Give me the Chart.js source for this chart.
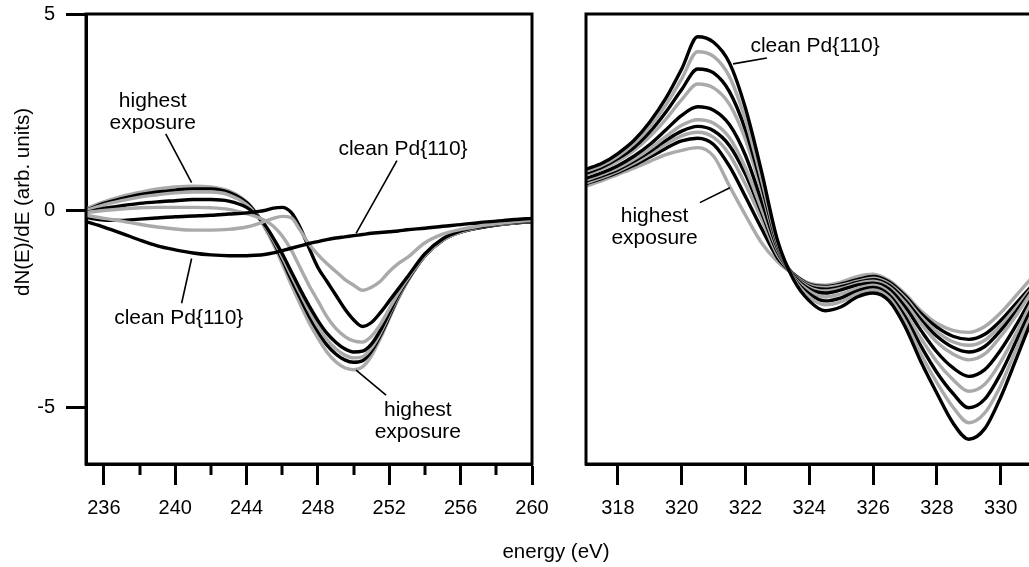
<!DOCTYPE html>
<html>
<head>
<meta charset="utf-8">
<script src="https://cdn.jsdelivr.net/npm/chart.js@4.4.1/dist/chart.umd.min.js"></script>
<style>
  html, body { margin: 0; padding: 0; background: #fff; overflow: hidden; width: 1029px; height: 567px; }
  canvas { position: absolute; top: 0; }
  #leftPanel { left: 0; }
  #rightPanel { left: 560px; }
  .ttl { position: absolute; font-family: "Liberation Sans", Arial, sans-serif; font-size: 20.5px; line-height: 24px; color: #000; white-space: nowrap; }
  #xTitle { left: 556px; top: 539px; transform: translateX(-50%); }
  #yTitle { left: 22px; top: 202px; transform: translate(-50%, -50%) rotate(-90deg); }
</style>
</head>
<body>
<canvas id="leftPanel" width="560" height="567"></canvas>
<canvas id="rightPanel" width="520" height="567"></canvas>
<div class="ttl" id="xTitle">energy (eV)</div>
<div class="ttl" id="yTitle">dN(E)/dE (arb. units)</div>
<script>
// ---- left panel data (energy in eV, dN/dE arb. units) ----
const leftEnergy = [235, 236, 237, 238, 239, 240, 241, 242, 243, 244,
  244.5, 245, 245.5, 246, 246.5, 247, 247.5, 248, 248.5, 249, 249.5, 250, 250.5, 251, 251.5, 252, 252.5, 253,
  254, 255, 256, 257, 258, 259, 260];
const leftClean = [-0.28, -0.42, -0.58, -0.75, -0.9, -1.0, -1.08, -1.13, -1.15, -1.15,
  -1.14, -1.12, -1.08, -1.02, -0.96, -0.9, -0.84, -0.79, -0.74, -0.7, -0.67, -0.64, -0.61, -0.58, -0.56, -0.54, -0.52, -0.49,
  -0.45, -0.4, -0.36, -0.31, -0.27, -0.23, -0.2];
const leftExp1 = [-0.12, -0.2, -0.27, -0.35, -0.42, -0.47, -0.5, -0.5, -0.48, -0.42,
  -0.36, -0.28, -0.2, -0.15, -0.18, -0.5, -0.85, -1.12, -1.35, -1.55, -1.75, -1.9, -2.03, -1.95, -1.8, -1.55, -1.35, -1.2,
  -0.82, -0.6, -0.48, -0.4, -0.34, -0.29, -0.25];
const leftExp2 = [-0.18, -0.24, -0.25, -0.22, -0.19, -0.16, -0.14, -0.12, -0.09, -0.06,
  -0.03, 0.0, 0.06, 0.08, -0.05, -0.43, -0.95, -1.45, -1.8, -2.15, -2.5, -2.78, -2.95, -2.85, -2.6, -2.3, -2.0, -1.7,
  -1.1, -0.72, -0.52, -0.42, -0.35, -0.3, -0.26];
const leftExp3 = [-0.05, 0.0, 0.04, 0.07, 0.08, 0.08, 0.08, 0.07, 0.03, -0.08,
  -0.15, -0.25, -0.4, -0.65, -1.0, -1.45, -1.9, -2.3, -2.7, -3.0, -3.2, -3.32, -3.35, -3.2, -2.9, -2.5, -2.1, -1.75,
  -1.15, -0.75, -0.55, -0.43, -0.36, -0.31, -0.27];
const leftExp4 = [-0.05, 0.05, 0.12, 0.18, 0.22, 0.25, 0.28, 0.28, 0.24, 0.08,
  -0.1, -0.35, -0.7, -1.1, -1.55, -2.0, -2.42, -2.8, -3.12, -3.35, -3.52, -3.6, -3.58, -3.4, -3.05, -2.6, -2.15, -1.78,
  -1.15, -0.75, -0.55, -0.44, -0.37, -0.32, -0.28];
const leftExp5 = [0.0, 0.14, 0.25, 0.34, 0.4, 0.45, 0.47, 0.47, 0.4, 0.15,
  -0.08, -0.38, -0.75, -1.18, -1.65, -2.1, -2.55, -2.95, -3.28, -3.52, -3.68, -3.75, -3.72, -3.5, -3.12, -2.65, -2.18, -1.8,
  -1.15, -0.75, -0.55, -0.44, -0.37, -0.32, -0.28];
const leftExp6 = [0.0, 0.18, 0.3, 0.4, 0.47, 0.52, 0.55, 0.55, 0.46, 0.2,
  -0.05, -0.38, -0.78, -1.25, -1.75, -2.22, -2.68, -3.08, -3.42, -3.65, -3.8, -3.86, -3.82, -3.58, -3.18, -2.7, -2.2, -1.8,
  -1.15, -0.75, -0.55, -0.44, -0.37, -0.32, -0.28];
const leftHighest = [0.05, 0.22, 0.36, 0.46, 0.55, 0.6, 0.62, 0.6, 0.5, 0.22,
  -0.05, -0.42, -0.85, -1.35, -1.88, -2.38, -2.85, -3.25, -3.6, -3.85, -4.0, -4.05, -3.98, -3.7, -3.25, -2.75, -2.25, -1.82,
  -1.15, -0.75, -0.55, -0.44, -0.37, -0.32, -0.28];

// ---- right panel data ----
const rightEnergy = [317, 317.5, 318, 318.5, 319, 319.5, 320, 320.5, 321, 321.5, 322, 322.5, 323, 323.5,
  324, 324.5, 325, 325.5, 326, 326.5, 327, 327.5, 328, 328.5, 329, 329.5, 330, 330.5, 331, 331.5, 332];
const rightClean = [1.05, 1.2, 1.45, 1.78, 2.25, 2.85, 3.6, 4.42, 4.28, 3.75, 2.6, 1.0, -0.75, -1.75,
  -2.3, -2.55, -2.45, -2.2, -2.1, -2.3, -2.95, -3.85, -4.65, -5.4, -5.82, -5.55, -4.75, -3.75, -2.75, -2.0, -1.45];
const rightExp1 = [1.0, 1.15, 1.38, 1.7, 2.12, 2.68, 3.35, 4.04, 3.92, 3.4, 2.3, 0.8, -0.8, -1.72,
  -2.2, -2.4, -2.32, -2.12, -2.02, -2.22, -2.82, -3.65, -4.38, -5.0, -5.4, -5.15, -4.45, -3.5, -2.6, -1.9, -1.4];
const rightExp2 = [0.95, 1.1, 1.32, 1.6, 2.0, 2.5, 3.08, 3.6, 3.5, 3.02, 2.05, 0.65, -0.85, -1.7,
  -2.12, -2.3, -2.22, -2.05, -1.96, -2.15, -2.7, -3.45, -4.12, -4.65, -5.02, -4.8, -4.15, -3.3, -2.45, -1.82, -1.35];
const rightExp3 = [0.9, 1.05, 1.25, 1.52, 1.88, 2.32, 2.82, 3.22, 3.12, 2.7, 1.8, 0.5, -0.9, -1.68,
  -2.05, -2.2, -2.12, -1.98, -1.9, -2.08, -2.58, -3.25, -3.85, -4.3, -4.6, -4.42, -3.85, -3.1, -2.3, -1.75, -1.32];
const rightExp4 = [0.82, 0.96, 1.14, 1.38, 1.68, 2.05, 2.42, 2.64, 2.55, 2.18, 1.4, 0.25, -0.95, -1.65,
  -2.0, -2.1, -2.02, -1.9, -1.85, -2.0, -2.45, -3.05, -3.6, -4.0, -4.22, -4.05, -3.55, -2.9, -2.2, -1.68, -1.3];
const rightExp5 = [0.78, 0.92, 1.08, 1.3, 1.57, 1.88, 2.17, 2.31, 2.22, 1.85, 1.08, 0.05, -1.0, -1.64,
  -1.96, -2.05, -1.98, -1.86, -1.8, -1.95, -2.35, -2.88, -3.35, -3.65, -3.8, -3.65, -3.2, -2.65, -2.05, -1.6, -1.25];
const rightExp6 = [0.75, 0.88, 1.04, 1.25, 1.5, 1.78, 2.02, 2.14, 2.03, 1.65, 0.92, -0.05, -1.05, -1.63,
  -1.93, -2.0, -1.94, -1.83, -1.76, -1.9, -2.28, -2.78, -3.2, -3.48, -3.6, -3.46, -3.05, -2.55, -2.0, -1.57, -1.22];
const rightExp7 = [0.7, 0.84, 1.0, 1.2, 1.43, 1.68, 1.9, 1.99, 1.86, 1.42, 0.66, -0.22, -1.12, -1.62,
  -1.9, -1.96, -1.9, -1.8, -1.72, -1.86, -2.22, -2.7, -3.08, -3.34, -3.43, -3.3, -2.92, -2.45, -1.95, -1.54, -1.2];
const rightExp8 = [0.68, 0.82, 0.97, 1.15, 1.36, 1.58, 1.77, 1.84, 1.68, 1.12, 0.35, -0.45, -1.2, -1.61,
  -1.88, -1.93, -1.87, -1.76, -1.68, -1.82, -2.17, -2.62, -2.97, -3.2, -3.28, -3.15, -2.8, -2.35, -1.9, -1.5, -1.18];
const rightHighest = [0.62, 0.76, 0.92, 1.08, 1.25, 1.42, 1.53, 1.6, 1.38, 0.62, -0.12, -0.82, -1.3, -1.62,
  -1.85, -1.9, -1.82, -1.68, -1.62, -1.78, -2.12, -2.55, -2.87, -3.05, -3.1, -2.95, -2.6, -2.15, -1.7, -1.35, -1.1];

// ---- axes ----
const yTicks = [-5, 0, 5];
const leftXTicks = [236, 240, 244, 248, 252, 256, 260];
const leftXMinor = [238, 242, 246, 250, 254, 258];
const rightXTicks = [318, 320, 322, 324, 326, 328, 330];

// ---- labels (data coordinates) ----
const leftNotes = [
  { text: ['highest', 'exposure'], x: 238.74, y: 2.64, line: [239.47, 1.95, 240.92, 0.71] },
  { text: ['clean Pd{110}'], x: 240.2, y: -2.89, line: [240.36, -2.36, 240.92, -1.22] },
  { text: ['clean Pd{110}'], x: 252.77, y: 1.42, line: [252.43, 1.27, 250.14, -0.58] },
  { text: ['highest', 'exposure'], x: 253.6, y: -5.23, line: [250.14, -4.06, 251.82, -4.7] }
];
const rightNotes = [
  { text: ['clean Pd{110}'], x: 324.18, y: 4.04, line: [322.67, 3.88, 321.61, 3.73] },
  { text: ['highest', 'exposure'], x: 319.15, y: -0.3, line: [320.57, 0.2, 321.51, 0.58] }
];

const FONT = '"Liberation Sans", Arial, Helvetica, sans-serif';
const GRAY = '#aaaaaa';
Chart.defaults.font.family = FONT;
Chart.defaults.color = '#000';

function makeSets(xs, series) {
  return series.map((ys, i) => ({
    data: ys.map((y, j) => ({ x: xs[j], y: y })),
    borderColor: i % 2 ? GRAY : '#000',
    borderWidth: 3.4,
    pointRadius: 0,
    cubicInterpolationMode: 'monotone',
    fill: false
  }));
}

// closed frame around the plot
const boxPlugin = {
  id: 'box',
  afterDraw(chart) {
    const a = chart.chartArea, ctx = chart.ctx;
    ctx.save();
    ctx.lineWidth = 3;
    ctx.strokeStyle = '#000';
    ctx.strokeRect(a.left, a.top, a.right - a.left, a.bottom - a.top);
    ctx.restore();
  }
};

// short ticks between the labelled ones
const minorPlugin = {
  id: 'minor',
  afterDraw(chart, args, opts) {
    if (!opts.values) return;
    const ctx = chart.ctx, sx = chart.scales.x, b = chart.chartArea.bottom;
    ctx.save();
    ctx.lineWidth = 3;
    ctx.strokeStyle = '#000';
    opts.values.forEach(v => {
      const px = Math.round(sx.getPixelForValue(v));
      ctx.beginPath();
      ctx.moveTo(px, b);
      ctx.lineTo(px, b + 11);
      ctx.stroke();
    });
    ctx.restore();
  }
};

const notesPlugin = {
  id: 'notes',
  afterDatasetsDraw(chart, args, opts) {
    const ctx = chart.ctx, sx = chart.scales.x, sy = chart.scales.y;
    ctx.save();
    ctx.strokeStyle = '#000';
    ctx.fillStyle = '#000';
    ctx.lineWidth = 1.6;
    ctx.font = '21px ' + FONT;
    ctx.textAlign = 'center';
    ctx.textBaseline = 'alphabetic';
    (opts.items || []).forEach(n => {
      const l = n.line;
      ctx.beginPath();
      ctx.moveTo(sx.getPixelForValue(l[0]), sy.getPixelForValue(l[1]));
      ctx.lineTo(sx.getPixelForValue(l[2]), sy.getPixelForValue(l[3]));
      ctx.stroke();
      n.text.forEach((t, i) => {
        ctx.fillText(t, sx.getPixelForValue(n.x), sy.getPixelForValue(n.y) + i * 22);
      });
    });
    ctx.restore();
  }
};

function xScale(min, max, ticks) {
  return {
    type: 'linear', min: min, max: max,
    afterBuildTicks: s => { s.ticks = ticks.map(v => ({ value: v })); },
    afterFit: s => { s.height = 103; },
    grid: { drawOnChartArea: false, tickLength: 21, tickWidth: 3, tickColor: '#000' },
    border: { width: 3, color: '#000' },
    ticks: { font: { size: 20 }, color: '#000', padding: 11, maxRotation: 0, autoSkip: false }
  };
}

new Chart(document.getElementById('leftPanel'), {
  type: 'line',
  data: { datasets: makeSets(leftEnergy, [leftClean, leftExp1, leftExp2, leftExp3, leftExp4, leftExp5, leftExp6, leftHighest]) },
  options: {
    responsive: false, animation: false, devicePixelRatio: 1,
    layout: { padding: { left: 0, right: 28, top: 14, bottom: 0 } },
    plugins: {
      legend: { display: false }, tooltip: { enabled: false },
      minor: { values: leftXMinor },
      notes: { items: leftNotes }
    },
    scales: {
      x: xScale(235, 260, leftXTicks),
      y: {
        type: 'linear', min: -6.45, max: 5,
        afterBuildTicks: s => { s.ticks = yTicks.map(v => ({ value: v })); },
        afterFit: s => { s.width = 86; s.paddingTop = 0; s.paddingBottom = 0; },
        grid: { drawOnChartArea: false, tickLength: 20, tickWidth: 3, tickColor: '#000' },
        border: { width: 3, color: '#000' },
        ticks: { font: { size: 20 }, color: '#000', padding: 11 }
      }
    }
  },
  plugins: [boxPlugin, minorPlugin, notesPlugin]
});

new Chart(document.getElementById('rightPanel'), {
  type: 'line',
  data: { datasets: makeSets(rightEnergy, [rightClean, rightExp1, rightExp2, rightExp3, rightExp4, rightExp5, rightExp6, rightExp7, rightExp8, rightHighest]) },
  options: {
    responsive: false, animation: false, devicePixelRatio: 1,
    layout: { padding: { left: 26, right: 15.5, top: 14, bottom: 0 } },
    plugins: {
      legend: { display: false }, tooltip: { enabled: false },
      notes: { items: rightNotes }
    },
    scales: {
      x: xScale(317, 332, rightXTicks),
      y: { type: 'linear', min: -6.45, max: 5, display: false }
    }
  },
  plugins: [boxPlugin, minorPlugin, notesPlugin]
});
</script>
</body>
</html>
